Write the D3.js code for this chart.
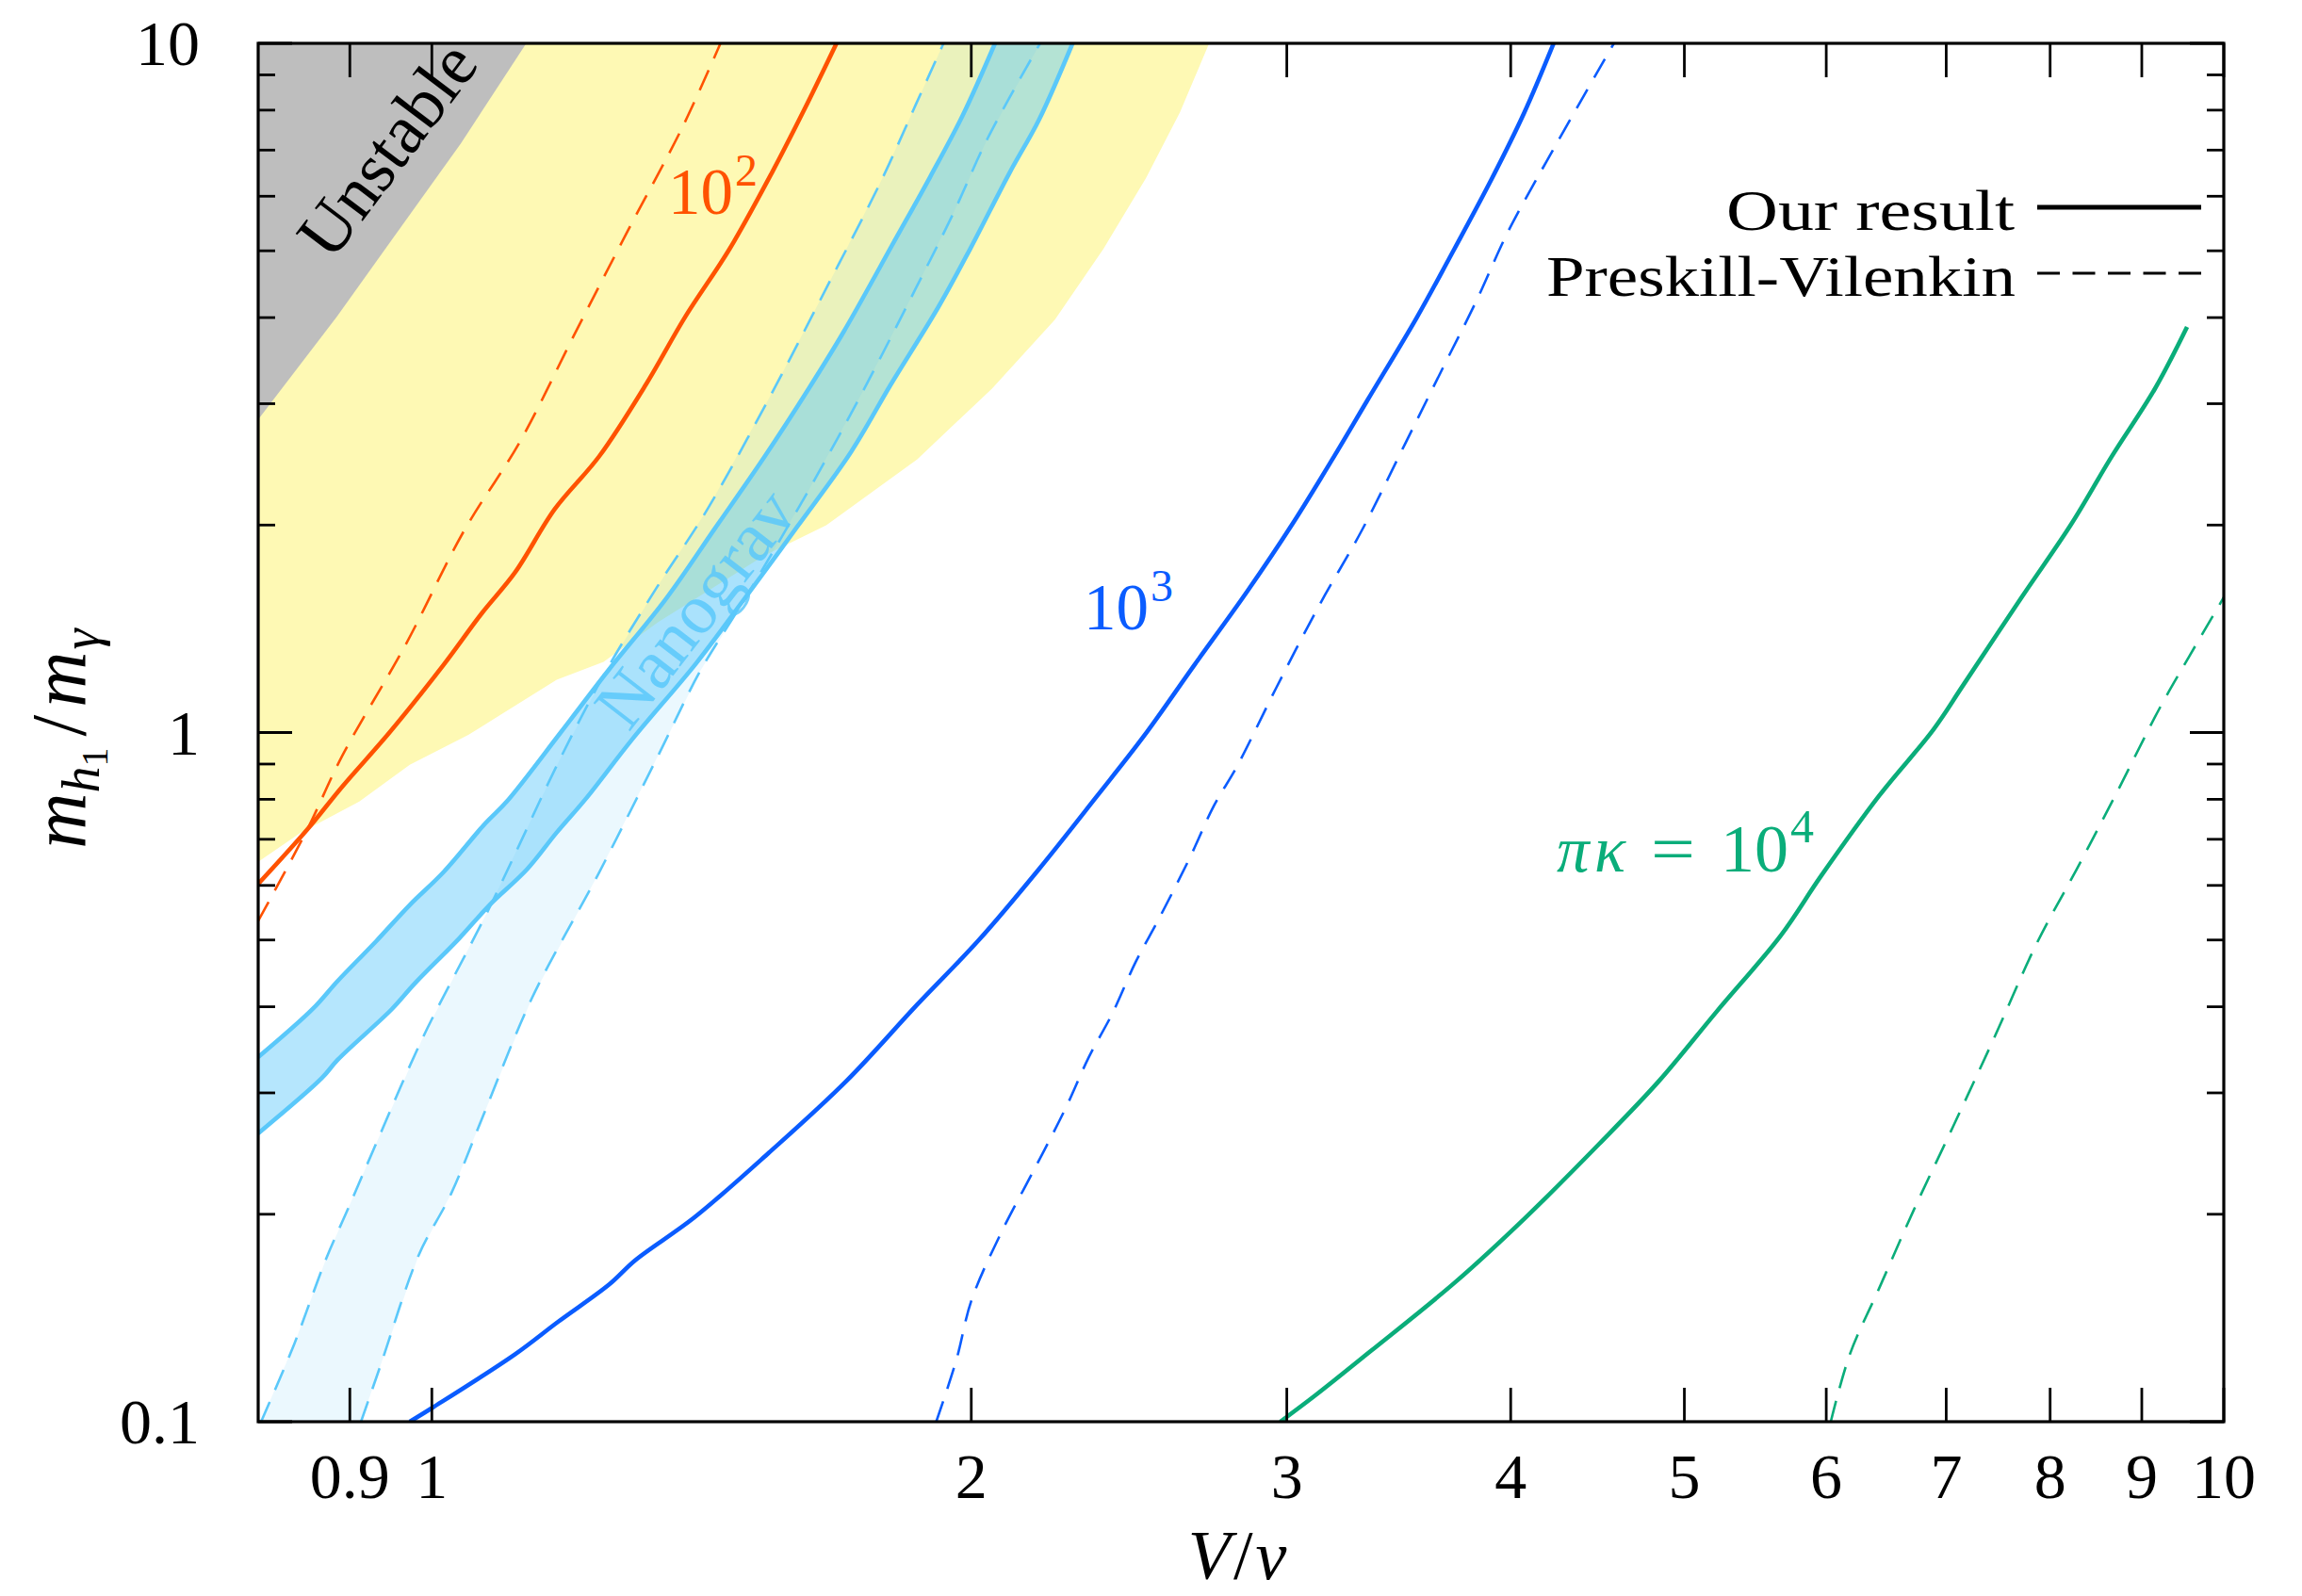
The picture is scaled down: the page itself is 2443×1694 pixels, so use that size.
<!DOCTYPE html>
<html>
<head>
<meta charset="utf-8">
<script src="https://cdn.jsdelivr.net/npm/d3@7"></script>
<style>
  html, body { margin: 0; padding: 0; background: #fff; }
  svg { display: block; }
  text { font-family: "Liberation Serif", "DejaVu Serif", serif; }
</style>
</head>
<body>
<svg id="chart" width="2443" height="1694"></svg>
<script>
// ---------------- DATA (x = V/v, y = m_h1/m_gamma) ----------------
const xTickValues = [0.9, 1, 2, 3, 4, 5, 6, 7, 8, 9, 10];
const xTickLabels = ["0.9", "1", "2", "3", "4", "5", "6", "7", "8", "9", "10"];
const yMajorValues = [0.1, 1, 10];
const yMajorLabels = ["0.1", "1", "10"];
const yMinorValues = [0.2, 0.3, 0.4, 0.5, 0.6, 0.7, 0.8, 0.9, 2, 3, 4, 5, 6, 7, 8, 9];

// Unstable (gray) region boundary
const unstableEdge = [[0.8, 2.846], [0.885, 4.012], [1.038, 7.16], [1.129, 10]];

// Yellow region lower/right boundary
const yellowEdge = [[0.8, 0.649], [0.845, 0.716], [0.911, 0.794], [0.972, 0.898], [1.048, 0.992],
  [1.174, 1.193], [1.247, 1.266], [1.337, 1.445], [1.531, 1.803], [1.660, 1.998], [1.710, 2.113],
  [1.866, 2.492], [2.054, 3.155], [2.227, 3.973], [2.371, 5.04], [2.503, 6.37], [2.615, 7.94], [2.715, 10]];

// Nanograv band, our result (solid edges)
const nanoUpper = [[0.8, 0.338], [0.858, 0.397], [0.886, 0.436], [0.931, 0.498], [0.972, 0.562],
  [1.015, 0.627], [1.071, 0.738], [1.101, 0.794], [1.180, 1.0], [1.254, 1.229], [1.351, 1.563],
  [1.439, 1.979], [1.534, 2.517], [1.623, 3.155], [1.698, 3.82], [1.813, 5.18], [1.897, 6.40],
  [1.978, 7.86], [2.062, 10]];
const nanoLower = [[0.8, 0.262], [0.868, 0.315], [0.886, 0.335], [0.950, 0.397], [0.978, 0.432],
  [1.036, 0.503], [1.077, 0.562], [1.130, 0.633], [1.174, 0.716], [1.219, 0.802], [1.295, 0.981],
  [1.404, 1.259], [1.491, 1.551], [1.599, 1.988], [1.714, 2.555], [1.804, 3.202], [1.916, 4.132],
  [1.997, 5.03], [2.101, 6.49], [2.182, 7.75], [2.278, 10]];

// Nanograv band, Preskill-Vilenkin (dashed edges)
const nanoPVUpper = [[0.803, 0.1], [0.838, 0.1297], [0.873, 0.1724], [0.898, 0.2038], [0.936, 0.2617],
  [0.989, 0.3619], [1.076, 0.5547], [1.178, 0.911], [1.251, 1.229], [1.334, 1.618], [1.425, 2.109],
  [1.548, 3.109], [1.666, 4.493], [1.780, 6.29], [1.862, 8.14], [1.930, 10]];
const nanoPVLower = [[0.913, 0.1], [0.936, 0.1205], [0.983, 0.1742], [1.025, 0.2141], [1.068, 0.2777],
  [1.137, 0.4112], [1.240, 0.627], [1.337, 0.924], [1.412, 1.229], [1.497, 1.571], [1.623, 2.248],
  [1.737, 3.101], [1.862, 4.405], [1.952, 5.63], [2.042, 7.27], [2.185, 10]];

// pi*kappa = 10^2
const k2Ours = [[0.8, 0.603], [0.852, 0.723], [0.891, 0.834], [0.947, 1.0], [1.015, 1.253],
  [1.066, 1.488], [1.113, 1.708], [1.171, 2.109], [1.240, 2.517], [1.317, 3.202], [1.385, 4.012],
  [1.466, 5.03], [1.548, 6.49], [1.614, 8.02], [1.682, 10]];
const k2PV = [[0.8, 0.533], [0.852, 0.723], [0.891, 0.924], [0.967, 1.342], [1.042, 1.960], [1.120, 2.644],
  [1.200, 3.764], [1.287, 5.36], [1.380, 7.56], [1.449, 10]];

// pi*kappa = 10^3
const k3Ours = [[0.972, 0.1], [1.002, 0.105], [1.113, 0.1253], [1.176, 0.1396], [1.256, 0.1582], [1.299, 0.1716],
  [1.401, 0.1978], [1.542, 0.2456], [1.704, 0.3124], [1.866, 0.4031], [2.020, 0.5003], [2.178, 0.6302],
  [2.348, 0.8057], [2.498, 0.990], [2.664, 1.253], [2.851, 1.602], [3.022, 2.008],
  [3.181, 2.492], [3.327, 3.033], [3.544, 3.994], [3.694, 4.86], [3.905, 6.37], [4.071, 7.94], [4.227, 10]];
const k3PV = [[1.912, 0.1], [1.962, 0.1229], [2.001, 0.1503], [2.081, 0.1893], [2.168, 0.2320], [2.257, 0.2845],
  [2.326, 0.3379], [2.398, 0.3916], [2.471, 0.4651], [2.546, 0.5375], [2.649, 0.6589], [2.731, 0.782],
  [2.814, 0.893], [2.961, 1.164], [3.127, 1.528], [3.305, 1.969], [3.494, 2.630], [3.669, 3.395],
  [3.825, 4.215], [3.987, 5.335], [4.187, 6.73], [4.567, 10]];

// pi*kappa = 10^4
const k4Ours = [[2.975, 0.1], [3.112, 0.1092], [3.340, 0.1265], [3.725, 0.1594], [4.077, 0.1978], [4.481, 0.2529],
  [4.833, 0.3109], [5.211, 0.3934], [5.660, 0.5078], [5.957, 0.618], [6.423, 0.810], [6.886, 1.010],
  [7.152, 1.170], [7.712, 1.571], [8.222, 2.008], [8.650, 2.504], [9.154, 3.155], [9.539, 3.877]];
const k4PV = [[6.035, 0.1], [6.185, 0.1253], [6.423, 0.1563], [6.714, 0.2028], [7.063, 0.2683], [7.431, 0.3567],
  [7.867, 0.4955], [8.278, 0.6334], [8.698, 0.810], [9.213, 1.087], [9.568, 1.291], [10, 1.571]];

// ---------------- LAYOUT ----------------
const L = 274, R = 2360, T = 46, B = 1509;
const colors = {
  orange: "#ff5200", blue: "#0a5cff", green: "#0aad7a",
  nano: "#5ac8fa", yellow: "#fef9b4", gray: "#bebebe"
};
const svg = d3.select("#chart");
const x = d3.scaleLog().domain([0.8, 10]).range([L, R]);
const y = d3.scaleLog().domain([0.1, 10]).range([B, T]);

svg.append("defs").append("clipPath").attr("id", "clip")
  .append("rect").attr("x", L).attr("y", T).attr("width", R - L).attr("height", B - T);

const plot = svg.append("g").attr("clip-path", "url(#clip)");
const line = d3.line().x(d => x(d[0])).y(d => y(d[1])).curve(d3.curveCatmullRom.alpha(0.5));
const poly = d3.line().x(d => x(d[0])).y(d => y(d[1])).curve(d3.curveLinearClosed);

plot.append("path").attr("d", poly(yellowEdge.concat([[0.8, 10]]))).attr("fill", colors.yellow);
plot.append("path").attr("d", poly(unstableEdge.concat([[0.8, 10]]))).attr("fill", colors.gray);
plot.append("path")
  .attr("d", poly(nanoPVUpper.concat(nanoPVLower.slice().reverse())))
  .attr("fill", colors.nano).attr("fill-opacity", 0.12);
plot.append("path")
  .attr("d", poly(nanoUpper.concat(nanoLower.slice().reverse())))
  .attr("fill", colors.nano).attr("fill-opacity", 0.45);

const dash = "23,14";
function drawLine(data, color, dashed) {
  plot.append("path")
    .attr("d", line(data))
    .attr("fill", "none")
    .attr("stroke", color)
    .attr("stroke-width", dashed ? 2.6 : 4.6)
    .attr("stroke-dasharray", dashed ? dash : null)
    .attr("stroke-linejoin", "round");
}
drawLine(nanoPVUpper, colors.nano, true);
drawLine(nanoPVLower, colors.nano, true);
drawLine(nanoUpper, colors.nano, false);
drawLine(nanoLower, colors.nano, false);
drawLine(k2PV, colors.orange, true);
drawLine(k2Ours, colors.orange, false);
drawLine(k3PV, colors.blue, true);
drawLine(k3Ours, colors.blue, false);
drawLine(k4PV, colors.green, true);
drawLine(k4Ours, colors.green, false);

// region labels
svg.append("text")
  .attr("transform", "translate(410,158) rotate(-53)")
  .attr("text-anchor", "middle").attr("dy", "0.35em")
  .attr("font-size", 74).attr("fill", "#000")
  .text("Unstable");
svg.append("text")
  .attr("transform", "translate(737,645) rotate(-52.3)")
  .attr("text-anchor", "middle").attr("dy", "0.35em")
  .attr("font-size", 75).attr("fill", colors.nano).attr("fill-opacity", 0.85)
  .text("Nanograv");

// curve labels
function powerLabel(xp, yp, base, exp, color) {
  const t = svg.append("text").attr("x", xp).attr("y", yp).attr("font-size", 69).attr("fill", color);
  t.append("tspan").text(base);
  t.append("tspan").attr("font-size", 48).attr("dy", -30).attr("dx", 2).text(exp);
}
powerLabel(709, 227, "10", "2", colors.orange);
powerLabel(1150, 668, "10", "3", colors.blue);

const g4 = svg.append("g").attr("fill", colors.green);
g4.append("text").attr("x", 1652).attr("y", 925).attr("font-size", 69).attr("font-style", "italic").text("π");
g4.append("text").attr("x", 1692).attr("y", 925).attr("font-size", 69).attr("font-style", "italic").text("κ");
g4.append("text").attr("x", 1752).attr("y", 925).attr("font-size", 69)
  .attr("textLength", 47).attr("lengthAdjust", "spacingAndGlyphs").text("=");
const g4b = g4.append("text").attr("x", 1826).attr("y", 925).attr("font-size", 72);
g4b.append("tspan").text("10");
g4b.append("tspan").attr("font-size", 50).attr("dy", -31).attr("dx", 2).text("4");

// ---------------- AXES ----------------
const axes = svg.append("g");
const tickW = 2.8;
xTickValues.forEach(v => {
  axes.append("line").attr("x1", x(v)).attr("x2", x(v)).attr("y1", B).attr("y2", B - 36)
    .attr("stroke", "#000").attr("stroke-width", tickW);
  axes.append("line").attr("x1", x(v)).attr("x2", x(v)).attr("y1", T).attr("y2", T + 36)
    .attr("stroke", "#000").attr("stroke-width", tickW);
});
yMajorValues.forEach(v => {
  axes.append("line").attr("x1", L).attr("x2", L + 36).attr("y1", y(v)).attr("y2", y(v))
    .attr("stroke", "#000").attr("stroke-width", tickW);
  axes.append("line").attr("x1", R).attr("x2", R - 36).attr("y1", y(v)).attr("y2", y(v))
    .attr("stroke", "#000").attr("stroke-width", tickW);
});
yMinorValues.forEach(v => {
  axes.append("line").attr("x1", L).attr("x2", L + 18).attr("y1", y(v)).attr("y2", y(v))
    .attr("stroke", "#000").attr("stroke-width", tickW);
  axes.append("line").attr("x1", R).attr("x2", R - 18).attr("y1", y(v)).attr("y2", y(v))
    .attr("stroke", "#000").attr("stroke-width", tickW);
});
axes.append("rect").attr("x", L).attr("y", T).attr("width", R - L).attr("height", B - T)
  .attr("fill", "none").attr("stroke", "#000").attr("stroke-width", 3.2);

xTickValues.forEach((v, i) => {
  axes.append("text").attr("x", x(v)).attr("y", 1590).attr("text-anchor", "middle")
    .attr("font-size", 68).text(xTickLabels[i]);
});
yMajorValues.forEach((v, i) => {
  axes.append("text").attr("x", 212).attr("y", y(v)).attr("dy", "0.34em").attr("text-anchor", "end")
    .attr("font-size", 68).text(yMajorLabels[i]);
});

// axis titles
const xt = svg.append("text").attr("x", 1313).attr("y", 1676).attr("text-anchor", "middle")
  .attr("font-size", 74);
xt.append("tspan").attr("font-style", "italic").text("V");
xt.append("tspan").attr("dx", 3).text("/");
xt.append("tspan").attr("font-style", "italic").attr("dx", 3).text("v");

const yt = svg.append("text").attr("transform", "translate(90,784) rotate(-90)")
  .attr("text-anchor", "middle").attr("font-size", 82);
yt.append("tspan").attr("font-style", "italic").text("m");
yt.append("tspan").attr("font-style", "italic").attr("font-size", 56).attr("dy", 15).text("h");
yt.append("tspan").attr("font-size", 40).attr("dy", 9).text("1");
yt.append("tspan").attr("dy", -24).attr("dx", 12).text("/");
yt.append("tspan").attr("font-style", "italic").attr("dx", 8).text("m");
yt.append("tspan").attr("font-style", "italic").attr("font-size", 56).attr("dy", 15).attr("dx", 2).text("γ");

// legend
const legend = svg.append("g");
legend.append("text").attr("x", 1832).attr("y", 244)
  .attr("font-size", 62).attr("textLength", 306).attr("lengthAdjust", "spacingAndGlyphs")
  .text("Our result");
legend.append("text").attr("x", 1641).attr("y", 314)
  .attr("font-size", 62).attr("textLength", 498).attr("lengthAdjust", "spacingAndGlyphs")
  .text("Preskill-Vilenkin");
legend.append("line").attr("x1", 2162).attr("x2", 2336).attr("y1", 220).attr("y2", 220)
  .attr("stroke", "#000").attr("stroke-width", 5);
legend.append("line").attr("x1", 2162).attr("x2", 2336).attr("y1", 290).attr("y2", 290)
  .attr("stroke", "#000").attr("stroke-width", 3).attr("stroke-dasharray", "24,13.5");
</script>
</body>
</html>
